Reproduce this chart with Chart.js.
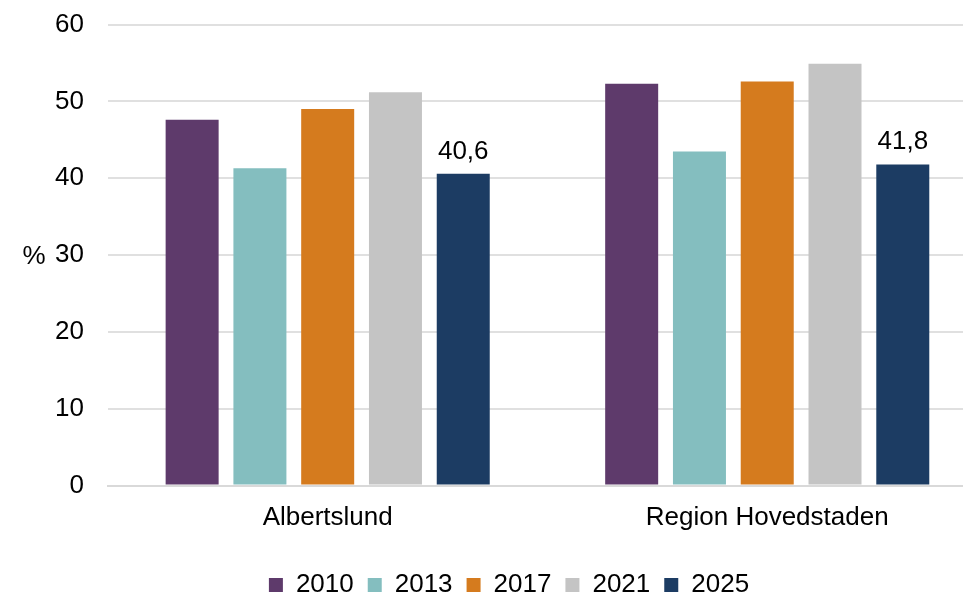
<!DOCTYPE html>
<html>
<head>
<meta charset="utf-8">
<script src="https://cdn.jsdelivr.net/npm/chart.js@4"></script>
<style>
  html, body { margin: 0; padding: 0; background: #fff; overflow: hidden; }
  #outer { position: relative; width: 963px; height: 597px; overflow: hidden; }
  #wrap { position: absolute; left: 0; top: -15px; width: 987px; height: 623px; }
</style>
</head>
<body>
<div id="outer"><div id="wrap"><canvas id="myChart"></canvas></div></div>
<script>
var categories = ["Albertslund", "Region Hovedstaden"];
var years = ["2010", "2013", "2017", "2021", "2025"];
var v2010 = [47.6, 52.3];
var v2013 = [41.3, 43.5];
var v2017 = [49.0, 52.6];
var v2021 = [51.2, 54.9];
var v2025 = [40.6, 41.8];
var barColors = ["#5E3A6B", "#84BEBF", "#D57B1E", "#C4C4C4", "#1C3C63"];

var seriesValues = [v2010, v2013, v2017, v2021, v2025];

Chart.defaults.font.family = "'Liberation Sans', Arial, sans-serif";
Chart.defaults.color = "#000";

// labels on the 2025 bars + the "%" axis title
var extras = {
  id: "extras",
  afterDatasetsDraw: function(chart) {
    var ctx = chart.ctx;
    ctx.save();
    ctx.fillStyle = "#000";
    ctx.font = "26px 'Liberation Sans', Arial, sans-serif";
    ctx.textAlign = "center";
    ctx.textBaseline = "alphabetic";
    var last = chart.data.datasets.length - 1;
    chart.getDatasetMeta(last).data.forEach(function(bar, i) {
      var txt = v2025[i].toFixed(1).replace(".", ",");
      ctx.fillText(txt, bar.x, bar.y - 15);
    });
    var y = chart.scales.y;
    ctx.textBaseline = "middle";
    ctx.fillText("%", 34, (y.top + y.bottom) / 2 + 2);
    ctx.restore();
  }
};

new Chart("myChart", {
  type: "bar",
  data: {
    labels: categories,
    datasets: years.map(function(yr, i) {
      return {
        label: yr,
        data: seriesValues[i],
        backgroundColor: barColors[i],
        barPercentage: 0.782,
        categoryPercentage: 0.771
      };
    })
  },
  options: {
    responsive: true,
    maintainAspectRatio: false,
    animation: false,
    layout: { padding: { left: 31, right: 0, top: 0, bottom: 0 } },
    plugins: {
      legend: {
        position: "bottom",
        title: { display: true, text: " ", font: { size: 1 }, padding: { top: 0, bottom: 14 } },
        labels: {
          font: { size: 26 },
          boxWidth: 14,
          boxHeight: 14,
          padding: 14
        }
      },
      tooltip: { enabled: false }
    },
    scales: {
      x: {
        grid: { display: false },
        border: { color: "#D9D9D9", width: 2 },
        ticks: { font: { size: 26 }, padding: 9 }
      },
      y: {
        min: 0,
        max: 60,
        ticks: { stepSize: 10, font: { size: 26 }, padding: 24 },
        grid: { color: "#E0E0E0", lineWidth: 2, drawTicks: false },
        border: { display: false }
      }
    }
  },
  plugins: [extras]
});
</script>
</body>
</html>
